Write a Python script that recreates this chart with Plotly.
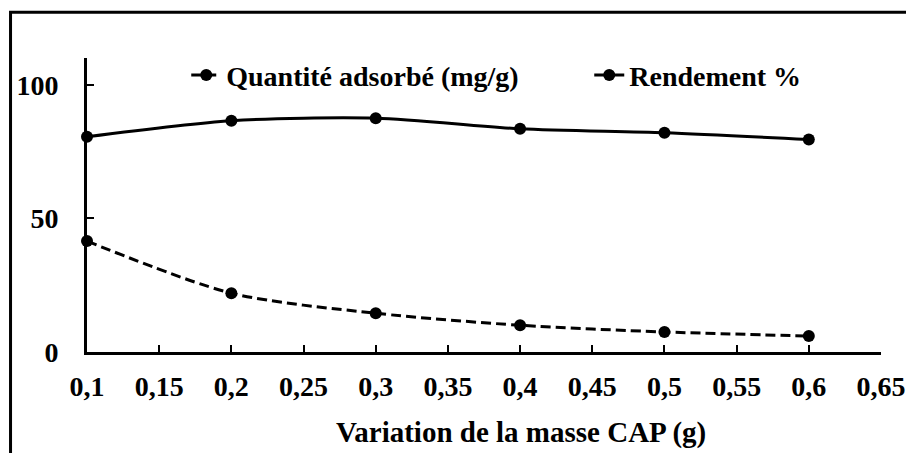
import plotly.graph_objects as go

masse = [0.1, 0.2, 0.3, 0.4, 0.5, 0.6]
quantite = [41.5, 22.0, 14.5, 10.0, 7.5, 6.0]
rendement = [80.5, 86.5, 87.5, 83.5, 82.0, 79.5]

FONT = "Liberation Serif"

# the page body adds an 8px margin, so the figure is 8px smaller than the window
W, H = 906, 445

fig = go.Figure()
fig.add_trace(
    go.Scatter(
        x=masse,
        y=quantite,
        mode="lines+markers",
        name="Quantité adsorbé (mg/g)",
        line={"color": "black", "width": 3, "dash": "10px,5px", "shape": "spline", "smoothing": 0.8},
        marker={"color": "black", "size": 12},
        cliponaxis=False,
        legendwidth=358,
    )
)
fig.add_trace(
    go.Scatter(
        x=masse,
        y=rendement,
        mode="lines+markers",
        name="Rendement %",
        line={"color": "black", "width": 3, "shape": "spline", "smoothing": 0.8},
        marker={"color": "black", "size": 12},
        cliponaxis=False,
    )
)

axis_common = dict(
    showgrid=False,
    zeroline=False,
    showline=True,
    linecolor="black",
    linewidth=3,
    ticks="inside",
    ticklen=7,
    tickwidth=2,
    tickcolor="black",
    automargin=False,
    tickfont={"family": FONT, "size": 28, "color": "black", "weight": "bold"},
)

fig.update_xaxes(range=[0.1, 0.65], tick0=0.1, dtick=0.05, ticklabelstandoff=7, **axis_common)
fig.update_yaxes(range=[0, 110], tick0=0, dtick=50, ticklabelstandoff=20, **axis_common)

fig.add_annotation(
    text="Variation de la masse CAP (g)",
    xref="paper",
    yref="paper",
    x=0.546,
    y=-0.273,
    xanchor="center",
    yanchor="middle",
    showarrow=False,
    font={"family": FONT, "size": 29, "color": "black", "weight": "bold"},
)

fig.update_layout(
    width=W,
    height=H,
    margin={"l": 78.5, "r": 33.3, "t": 50, "b": 101.3, "autoexpand": False},
    plot_bgcolor="white",
    paper_bgcolor="white",
    separators=", ",
    showlegend=True,
    legend={
        "orientation": "h",
        "x": 0.125,
        "y": 0.941,
        "xanchor": "left",
        "yanchor": "middle",
        "font": {"family": FONT, "size": 28, "color": "black", "weight": "bold"},
        "bgcolor": "rgba(0,0,0,0)",
    },
    shapes=[
        {
            "type": "rect",
            "xref": "paper",
            "yref": "paper",
            "x0": -0.0963,
            "x1": 1.2,
            "y0": -0.6,
            "y1": 1.1554,
            "line": {"color": "black", "width": 3},
            "layer": "above",
        }
    ],
)

fig.write_html("out.html")
